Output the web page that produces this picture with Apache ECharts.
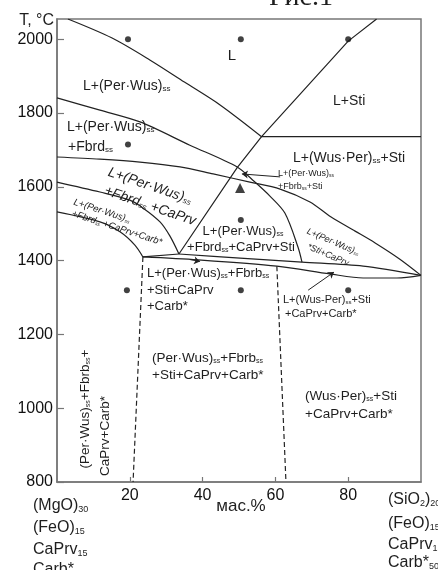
<!DOCTYPE html>
<html>
<head>
<meta charset="utf-8">
<title>Рис.1</title>
<script src="https://cdn.jsdelivr.net/npm/echarts@6/dist/echarts.min.js"></script>
<style>
  html, body { margin: 0; padding: 0; background: #fff; }
  #chart { width: 438px; height: 570px; }
</style>
</head>
<body>
<div id="chart"></div>
<script>
// оси
const xTicks = [20, 40, 60, 80];
const yTicks = [800, 1000, 1200, 1400, 1600, 1800, 2000];
const xRange = [0, 100];
const yRange = [800, 2055];

// границы фаз, [мас.%, T °C]
const liquidusPerWus = [[3, 2055], [15, 2004], [25.5, 1944], [35, 1884], [44.8, 1822], [56.2, 1736]];
const liquidusSti = [[87.8, 2055], [80, 1995], [56.2, 1736], [49.5, 1652], [33.5, 1418]];
const isotherm1736 = [[56.2, 1736], [100, 1736]];
const boundaryFbrd = [[0, 1841], [11.8, 1808], [22.8, 1776], [36.5, 1713], [49.5, 1654], [53.8, 1618],
  [58.5, 1575], [62.6, 1529], [66.2, 1437], [67.3, 1396]];
const boundaryCaPrv = [[0, 1681], [11.8, 1675], [22.8, 1667], [33.8, 1654], [42.9, 1635], [53, 1613],
  [61.3, 1594], [69.5, 1559], [75.3, 1518], [81.9, 1480], [87.4, 1448], [94.2, 1404], [100, 1360]];
const boundaryLeftUpper = [[0, 1613], [11.8, 1586], [20, 1564], [23.6, 1543], [28.3, 1505], [31, 1467], [33.5, 1418]];
const boundaryCarb = [[0, 1532], [11.8, 1505], [17.3, 1478], [21.4, 1442], [23.6, 1410]];
const solidusLeft = [[23.6, 1410], [33.5, 1418]];
const solidusUpper = [[33.5, 1418], [50.3, 1407], [67.3, 1396], [84.1, 1385], [100, 1360]];
const solidusLower = [[23.6, 1410], [38.7, 1402], [60.4, 1385], [75, 1364], [84.1, 1353], [93.4, 1353], [100, 1360]];
const dashedLeft = [[23.6, 1410], [20.9, 800]];
const dashedRight = [[60.4, 1385], [62.9, 800]];

// экспериментальные точки
const runPoints = [[19.5, 2000], [50.5, 2000], [80, 2000], [19.5, 1715], [50.5, 1510],
  [19.2, 1320], [50.5, 1320], [80, 1320]];
const runTriangle = [[50.3, 1597]];

// стрелки-выноски
const arrowFbrbSti = [[61.3, 1627], [50.8, 1635]];
const arrowLens = [[69, 1320], [76.1, 1369]];
const arrowSolidus = [[36.5, 1403], [39.3, 1398]];

const FONT = '"Liberation Sans", Arial, sans-serif';
const INK = '#1e1e1e';

const chart = echarts.init(document.getElementById('chart'));

// линия границы
const curve = (data, opts = {}) => ({
  type: 'line',
  data: data,
  showSymbol: false,
  symbol: 'none',
  smooth: opts.smooth || false,
  silent: true,
  lineStyle: { color: '#222', width: 1.2, type: opts.dash ? [5, 3] : 'solid' },
  z: 3
});

// стрелка
const arrow = (coords) => ({
  type: 'lines',
  coordinateSystem: 'cartesian2d',
  data: [{ coords: coords }],
  symbol: ['none', 'arrow'],
  symbolSize: 6,
  silent: true,
  lineStyle: { color: '#222', width: 1, opacity: 1 },
  z: 4
});

// подпись с нижними индексами {s|..}
const label = (x, y, text, size, opts = {}) => {
  const style = opts.italic ? 'italic' : 'normal';
  return {
    type: 'text',
    x: x,
    y: y,
    rotation: (opts.rot || 0) * Math.PI / 180,
    silent: true,
    z: 10,
    style: {
      text: text,
      fill: INK,
      fontSize: size,
      fontFamily: opts.serif ? '"Liberation Serif", "Times New Roman", serif' : FONT,
      fontStyle: style,
      align: opts.align || 'left',
      verticalAlign: opts.va || 'middle',
      rich: {
        s: { fontSize: Math.round(size * 0.55), fontFamily: FONT, fontStyle: style, fill: INK, verticalAlign: 'bottom' }
      }
    }
  };
};

const labels = [
  label(301, 12, 'Рис.1', 28, { align: 'center', va: 'bottom', serif: true }),
  label(54, 21, 'T, °C', 16, { align: 'right' }),
  label(241, 506, 'мас.%', 17, { align: 'center' }),

  label(232, 56, 'L', 15, { align: 'center' }),
  label(83, 86, 'L+(Per·Wus){s|ss}', 14),
  label(333, 101, 'L+Sti', 14),
  label(67, 127, 'L+(Per·Wus){s|ss}', 14),
  label(68, 147, '+Fbrd{s|ss}', 14),
  label(293, 158, 'L+(Wus·Per){s|ss}+Sti', 14),
  label(278, 174, 'L+(Per·Wus){s|ss}', 9),
  label(278, 187, '+Fbrb{s|ss}+Sti', 9),

  label(150, 186, 'L+(Per·Wus){s|ss}', 14, { align: 'center', rot: -19, italic: true }),
  label(150, 206, '+Fbrd{s|ss} +CaPrv', 14, { align: 'center', rot: -19, italic: true }),
  label(102, 211, 'L+(Per·Wus){s|ss}', 9.5, { align: 'center', rot: -18, italic: true }),
  label(117, 228, '+Fbrd{s|ss} +CaPrv+Carb*', 9.5, { align: 'center', rot: -18, italic: true }),

  label(243, 231, 'L+(Per·Wus){s|ss}', 13, { align: 'center' }),
  label(241, 247, '+Fbrd{s|ss}+CaPrv+Sti', 13, { align: 'center' }),
  label(333, 242, 'L+(Per·Wus){s|ss}', 9, { align: 'center', rot: -23, italic: true }),
  label(328, 255, '*Sti+CaPrv', 9, { align: 'center', rot: -23, italic: true }),

  label(147, 273, 'L+(Per·Wus){s|ss}+Fbrb{s|ss}', 13),
  label(147, 290, '+Sti+CaPrv', 13),
  label(147, 306, '+Carb*', 13),
  label(283, 300, 'L+(Wus-Per){s|ss}+Sti', 11),
  label(285, 314, '+CaPrv+Carb*', 11),

  label(152, 358, '(Per·Wus){s|ss}+Fbrb{s|ss}', 13.5),
  label(152, 375, '+Sti+CaPrv+Carb*', 13.5),
  label(305, 396, '(Wus·Per){s|ss}+Sti', 13.5),
  label(305, 414, '+CaPrv+Carb*', 13.5),

  label(85, 409, '(Per·Wus){s|ss}+Fbrb{s|ss}+', 13.5, { align: 'center', rot: 90 }),
  label(105, 436, 'CaPrv+Carb*', 13.5, { align: 'center', rot: 90 }),

  // составы конечных точек
  label(33, 506, '(MgO){s|30}', 16),
  label(33, 528, '(FeO){s|15}', 16),
  label(33, 550, 'CaPrv{s|15}', 16),
  label(33, 570, 'Carb*{s|40}', 16),
  label(388, 500, '(SiO{s|2}){s|20}', 16),
  label(388, 524, '(FeO){s|15}', 16),
  label(388, 545, 'CaPrv{s|15}', 16),
  label(388, 563, 'Carb*{s|50}', 16)
];

const axisCommon = {
  type: 'value',
  axisLine: { show: true, lineStyle: { color: '#777', width: 1.5 } },
  splitLine: { show: false },
  axisLabel: { color: '#111', fontSize: 16, fontFamily: FONT, formatter: (v) => String(v) }
};

const option = {
  animation: false,
  backgroundColor: '#fff',
  grid: { left: 57, right: 17, top: 19, bottom: 88, show: true, borderColor: '#777', borderWidth: 1.5 },
  xAxis: {
    ...axisCommon,
    min: xRange[0],
    max: xRange[1],
    axisTick: { inside: true, length: 5, customValues: xTicks, lineStyle: { color: '#777', width: 1.2 } },
    axisLabel: { ...axisCommon.axisLabel, customValues: xTicks, margin: 6 }
  },
  yAxis: {
    ...axisCommon,
    min: yRange[0],
    max: yRange[1],
    axisTick: { inside: true, length: 7, customValues: yTicks, lineStyle: { color: '#777', width: 1.2 } },
    axisLabel: { ...axisCommon.axisLabel, customValues: yTicks, margin: 4 }
  },
  series: [
    curve(liquidusPerWus, { smooth: 0.3 }),
    curve(liquidusSti),
    curve(isotherm1736),
    curve(boundaryFbrd, { smooth: 0.3 }),
    curve(boundaryCaPrv, { smooth: 0.3 }),
    curve(boundaryLeftUpper, { smooth: 0.3 }),
    curve(boundaryCarb, { smooth: 0.3 }),
    curve(solidusLeft),
    curve(solidusUpper, { smooth: 0.3 }),
    curve(solidusLower, { smooth: 0.3 }),
    curve(dashedLeft, { dash: true }),
    curve(dashedRight, { dash: true }),
    {
      type: 'scatter',
      data: runPoints,
      symbol: 'circle',
      symbolSize: 6,
      itemStyle: { color: '#111' },
      silent: true,
      z: 5
    },
    {
      type: 'scatter',
      data: runTriangle,
      symbol: 'triangle',
      symbolSize: 10,
      itemStyle: { color: '#111' },
      silent: true,
      z: 5
    },
    arrow(arrowFbrbSti),
    arrow(arrowLens),
    arrow(arrowSolidus)
  ],
  graphic: labels
};

chart.setOption(option);
</script>
</body>
</html>
